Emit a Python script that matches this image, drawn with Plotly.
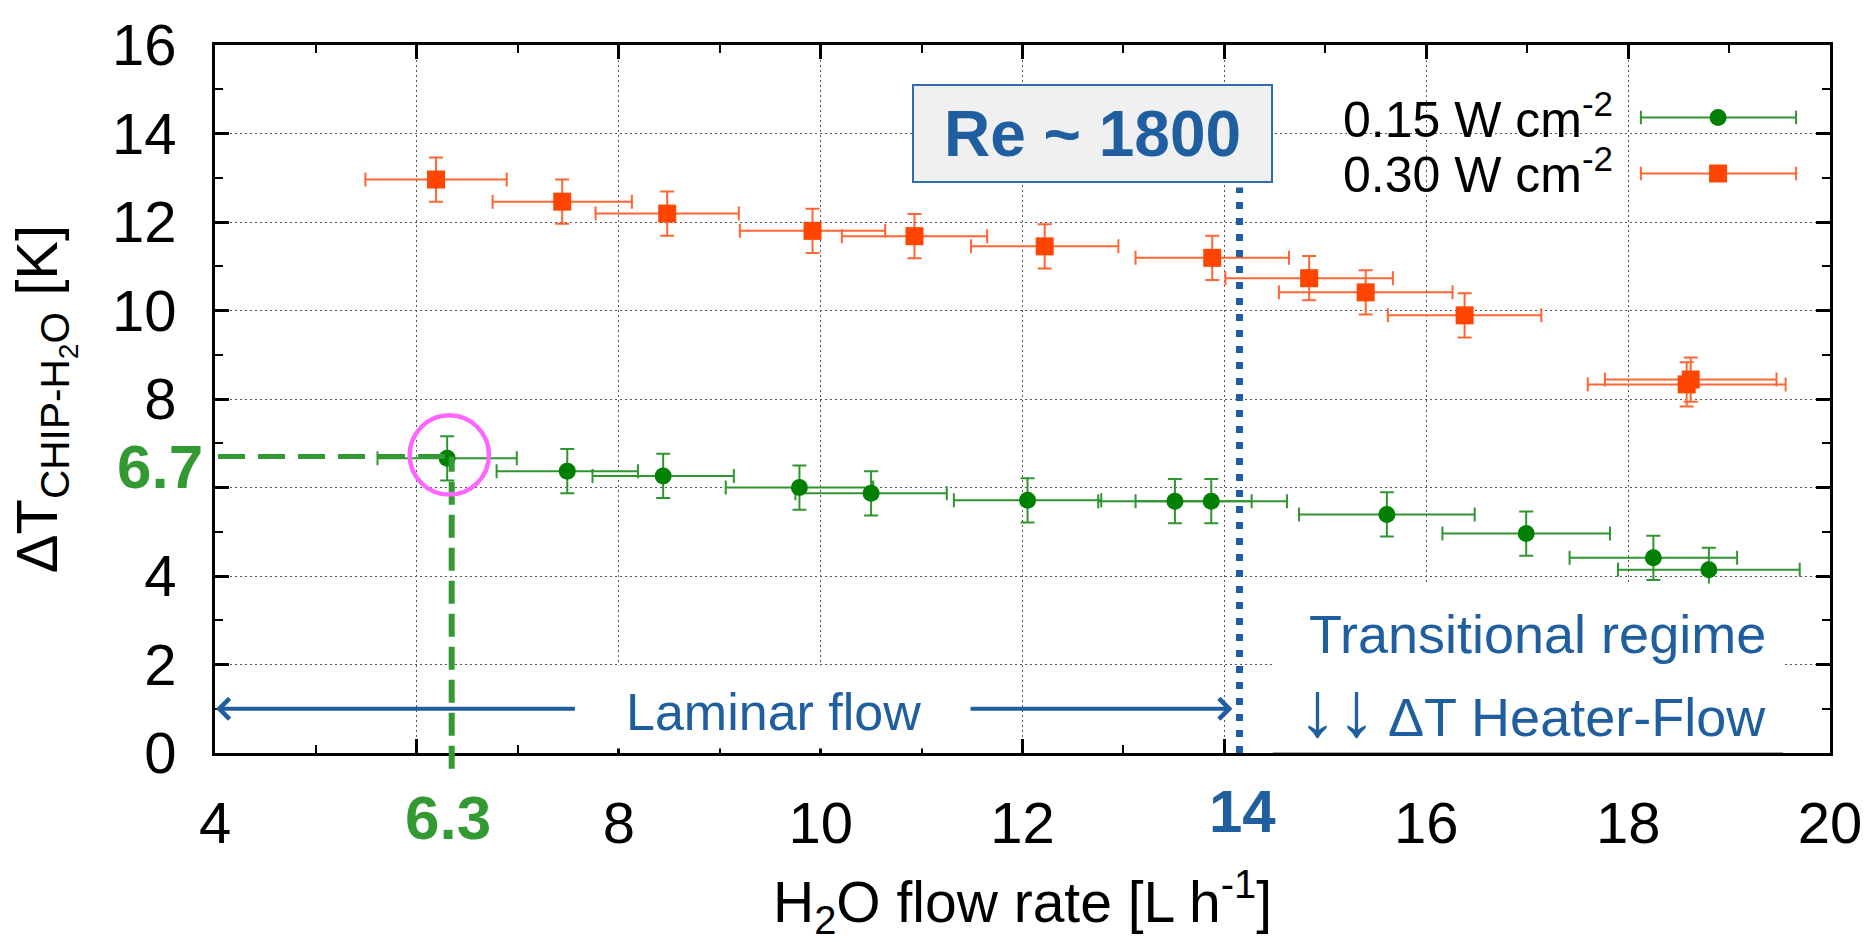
import plotly.graph_objects as go

# ---------------- data ----------------
flow_015 = [6.30, 7.49, 8.44, 9.79, 10.50, 12.05, 13.51, 13.87, 15.61, 16.99, 18.25, 18.80]
dT_015 = [6.66, 6.37, 6.26, 6.00, 5.87, 5.71, 5.69, 5.69, 5.39, 4.96, 4.41, 4.14]
flow_err_015 = [0.69, 0.70, 0.70, 0.73, 0.75, 0.73, 0.76, 0.75, 0.87, 0.83, 0.83, 0.90]
dT_err_015 = [0.5, 0.5, 0.5, 0.5, 0.5, 0.5, 0.5, 0.5, 0.5, 0.5, 0.5, 0.5]

flow_030 = [6.19, 7.44, 8.48, 9.92, 10.93, 12.22, 13.88, 14.84, 15.40, 16.38, 18.58, 18.62]
dT_030 = [12.96, 12.46, 12.19, 11.80, 11.68, 11.45, 11.19, 10.73, 10.41, 9.89, 8.33, 8.44]
flow_err_030 = [0.70, 0.69, 0.71, 0.72, 0.72, 0.73, 0.76, 0.83, 0.86, 0.76, 0.98, 0.85]
dT_err_030 = [0.5, 0.5, 0.5, 0.5, 0.5, 0.5, 0.5, 0.5, 0.5, 0.5, 0.5, 0.5]

series_names = ["0.15 W cm<sup>-2</sup>", "0.30 W cm<sup>-2</sup>"]

x_tickvals = [4, 6, 8, 10, 12, 14, 16, 18, 20]
x_ticktext = ["4", "", "8", "10", "12", "", "16", "18", "20"]
y_tickvals = [0, 2, 4, 6, 8, 10, 12, 14, 16]
y_ticktext = ["0", "2", "4", "", "8", "10", "12", "14", "16"]

highlight_flow = 6.3
highlight_dT = 6.7
re_flow = 14.15
re_label = "Re ~ 1800"

# ---------------- styles ----------------
FONT = "Liberation Sans, Arial, sans-serif"
BLUE = "#1f5fa0"
GREEN_ANN = "#339933"
GREEN_MK = "#008000"
GREEN_ERR = "#2f962f"
ORANGE_MK = "#ff4500"
ORANGE_ERR = "#ff6633"
MAGENTA = "#ff66ff"

fig = go.Figure()

fig.add_trace(go.Scatter(
    x=flow_030, y=dT_030, mode="markers", name=series_names[1],
    marker=dict(symbol="square", size=18, color=ORANGE_MK),
    error_x=dict(type="data", array=flow_err_030, color=ORANGE_ERR, thickness=2, width=7),
    error_y=dict(type="data", array=dT_err_030, color=ORANGE_ERR, thickness=2, width=7),
    showlegend=False,
))
fig.add_trace(go.Scatter(
    x=flow_015, y=dT_015, mode="markers", name=series_names[0],
    marker=dict(symbol="circle", size=17, color=GREEN_MK),
    error_x=dict(type="data", array=flow_err_015, color=GREEN_ERR, thickness=2, width=7),
    error_y=dict(type="data", array=dT_err_015, color=GREEN_ERR, thickness=2, width=7),
    showlegend=False,
))

axis_common = dict(
    ticks="inside", ticklen=14, tickwidth=2.5, tickcolor="black",
    showline=True, linewidth=3, linecolor="black", mirror="ticks",
    showgrid=True, gridcolor="#555555", gridwidth=1, griddash="2px,3px",
    zeroline=False,
    tickfont=dict(family=FONT, size=58, color="black"),
)

fig.update_xaxes(
    range=[4, 20], tickmode="array", tickvals=x_tickvals, ticktext=x_ticktext,
    minor=dict(tickmode="linear", tick0=0, dtick=1, ticks="inside", ticklen=8,
               tickwidth=2, tickcolor="black", showgrid=False),
    ticklabelstandoff=17,
    title=dict(text="H<sub>2</sub>O flow rate [L h<sup>-1</sup>]",
               font=dict(family=FONT, size=57, color="black"), standoff=36),
    **axis_common,
)
fig.update_yaxes(
    range=[0, 16], tickmode="array", tickvals=y_tickvals, ticktext=y_ticktext,
    minor=dict(tickmode="linear", tick0=0, dtick=1, ticks="inside", ticklen=8,
               tickwidth=2, tickcolor="black", showgrid=False),
    ticklabelstandoff=24,
    title=dict(text="ΔT<sub>CHIP-H<sub>2</sub>O</sub> [K]",
               font=dict(family=FONT, size=58, color="black"), standoff=36),
    **axis_common,
)

shapes = [
    # white label backgrounds
    dict(type="rect", xref="x", yref="y", x0=7.6, x1=11.45, y0=0.1, y1=1.98,
         fillcolor="white", line=dict(width=0), layer="above"),
    dict(type="rect", xref="x", yref="y", x0=14.48, x1=19.535, y0=-0.06, y1=3.83,
         fillcolor="white", line=dict(width=0), layer="above"),
    dict(type="line", xref="x", yref="y", x0=14.48, x1=19.535, y0=0, y1=0,
         line=dict(color="#8a8a8a", width=1.5), layer="above"),
    # Re boundary dotted line
    dict(type="line", xref="x", yref="y", x0=re_flow, x1=re_flow, y0=0, y1=12.78,
         line=dict(color=BLUE, width=7, dash="7px,9px"), layer="above"),
    # highlight dashed lines
    dict(type="line", xref="x", yref="y", x0=4.03, x1=6.33, y0=highlight_dT, y1=highlight_dT,
         line=dict(color=GREEN_ANN, width=5, dash="27px,13px"), layer="above"),
    dict(type="line", xref="paper", yref="paper",
         x0=(6.345 - 4) / 16, x1=(6.345 - 4) / 16, y0=-0.0223, y1=highlight_dT / 16,
         line=dict(color=GREEN_ANN, width=6, dash="23px,10px"), layer="above"),
    # magenta circle
    dict(type="circle", xref="x", yref="y", x0=5.929, x1=6.714, y0=5.84, y1=7.63,
         line=dict(color=MAGENTA, width=4.5), layer="above"),
]

# legend samples (gnuplot style: text on the left, sample on the right)
leg_x0, leg_x1, leg_xm = 0.8829, 0.9790, 0.9307
leg_rows = [(0.8976, GREEN_ERR, GREEN_MK, "circle", 17), (0.8185, ORANGE_ERR, ORANGE_MK, "rect", 18)]
cap = 7 / 729.4
for yy, ecol, mcol, shp, sz in leg_rows:
    shapes.append(dict(type="line", xref="paper", yref="paper", x0=leg_x0, x1=leg_x1, y0=yy, y1=yy,
                       line=dict(color=ecol, width=2)))
    for xe in (leg_x0, leg_x1):
        shapes.append(dict(type="line", xref="paper", yref="paper", x0=xe, x1=xe,
                           y0=yy - cap, y1=yy + cap, line=dict(color=ecol, width=2)))
    shapes.append(dict(type=shp, xref="paper", yref="paper", xsizemode="pixel", ysizemode="pixel",
                       xanchor=leg_xm, yanchor=yy, x0=-sz / 2, x1=sz / 2, y0=-sz / 2, y1=sz / 2,
                       fillcolor=mcol, line=dict(width=0)))

annotations = [
    dict(text="<b>" + re_label + "</b>", xref="x", yref="y", x=12.664, y=13.846,
         xshift=3, yshift=7,
         showarrow=False, font=dict(family=FONT, size=64, color=BLUE),
         bgcolor="#f0f0f0", bordercolor="#2f6eaa", borderwidth=2, borderpad=0,
         width=357, height=95, xanchor="center", yanchor="middle"),
    dict(text="<b>6.7</b>", xref="paper", yref="y", x=-0.0063, y=highlight_dT, yshift=-10,
         xanchor="right", yanchor="middle", showarrow=False,
         font=dict(family=FONT, size=62, color=GREEN_ANN)),
    dict(text="<b>6.3</b>", xref="x", yref="paper", x=6.31, y=-0.0909,
         xanchor="center", yanchor="middle", showarrow=False,
         font=dict(family=FONT, size=62, color=GREEN_ANN)),
    dict(text="<b>14</b>", xref="x", yref="paper", x=14.18, y=-0.0827,
         xanchor="center", yanchor="middle", showarrow=False,
         font=dict(family=FONT, size=60, color=BLUE)),
    dict(text=series_names[0], xref="paper", yref="paper", x=0.867, y=0.9002,
         xanchor="right", yanchor="middle", showarrow=False,
         font=dict(family=FONT, size=50, color="black")),
    dict(text=series_names[1], xref="paper", yref="paper", x=0.867, y=0.8221,
         xanchor="right", yanchor="middle", showarrow=False,
         font=dict(family=FONT, size=50, color="black")),
    dict(text="Laminar flow", xref="x", yref="y", x=9.535, y=1.03, yshift=-5,
         xanchor="center", yanchor="middle", showarrow=False,
         font=dict(family=FONT, size=52, color=BLUE)),
    dict(text="Transitional regime", xref="x", yref="y", x=17.1, y=2.7,
         xanchor="center", yanchor="middle", showarrow=False,
         font=dict(family=FONT, size=54, color=BLUE)),
    dict(text="<span style='font-size:78px'>↓↓</span> ΔT Heater-Flow", xref="x", yref="y",
         x=17.05, y=1.0, xanchor="center", yanchor="middle", showarrow=False,
         font=dict(family=FONT, size=54, color=BLUE)),
    # laminar arrows
    dict(text="", xref="x", yref="y", axref="x", ayref="y", x=4.01, y=1.0, ax=7.58, ay=1.0,
         showarrow=True, arrowhead=4, arrowsize=1.0, arrowwidth=4, arrowcolor=BLUE, standoff=0),
    dict(text="", xref="x", yref="y", axref="x", ayref="y", x=14.08, y=1.0, ax=11.47, ay=1.0,
         showarrow=True, arrowhead=4, arrowsize=1.0, arrowwidth=4, arrowcolor=BLUE, standoff=0),
]

fig.update_layout(
    width=1874, height=942,
    margin=dict(l=215, r=36, t=33, b=179),
    paper_bgcolor="white", plot_bgcolor="white",
    showlegend=False,
    font=dict(family=FONT, size=54, color="black"),
    shapes=shapes, annotations=annotations,
)

fig.write_html("out.html")
